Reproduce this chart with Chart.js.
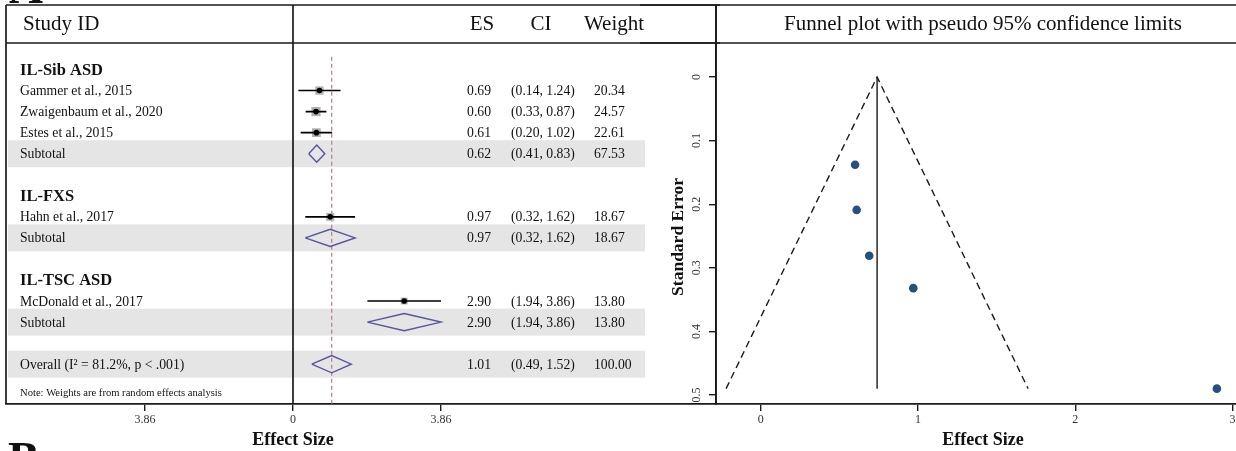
<!DOCTYPE html>
<html>
<head>
<meta charset="utf-8">
<script src="https://cdn.jsdelivr.net/npm/chart.js@4.4.1/dist/chart.umd.min.js"></script>
<style>
html,body{margin:0;padding:0;background:#fff;}
#wrap{position:relative;width:1236px;height:451px;overflow:hidden;background:#fff;}
#forest{position:absolute;left:0;top:0;}
#funnel{position:absolute;left:640px;top:0;}
</style>
</head>
<body>
<div id="wrap">
<canvas id="forest" width="720" height="451"></canvas>
<canvas id="funnel" width="596" height="451"></canvas>
</div>
<script>
// forest plot rows (rowPos = line number from the top)
const rowLabel = ["IL-Sib ASD","Gammer et al., 2015","Zwaigenbaum et al., 2020","Estes et al., 2015","Subtotal",
  "IL-FXS","Hahn et al., 2017","Subtotal","IL-TSC ASD","McDonald et al., 2017","Subtotal","Overall (I\u00b2 = 81.2%, p < .001)"];
const rowKind = ["group","study","study","study","sub","group","study","sub","group","study","sub","overall"];
const rowPos = [0,1,2,3,4,6,7,8,10,11,12,14];
const es     = [null,0.69,0.60,0.61,0.62,null,0.97,0.97,null,2.90,2.90,1.01];
const ciLow  = [null,0.14,0.33,0.20,0.41,null,0.32,0.32,null,1.94,1.94,0.49];
const ciHigh = [null,1.24,0.87,1.02,0.83,null,1.62,1.62,null,3.86,3.86,1.52];
const weight = [null,20.34,24.57,22.61,67.53,null,18.67,18.67,null,13.80,13.80,100.00];
const overallES = 1.01;
const forestTicks = [-3.86, 0, 3.86];

// funnel plot
const funnelES = [0.69,0.60,0.61,0.97,2.90];
const funnelSE = [0.281,0.138,0.209,0.332,0.490];
const pooledES = 0.74;
const limitX = [-0.22, 0.74, 1.70];
const limitY = [0.49, 0, 0.49];
const funnelXTicks = [0,1,2,3];
const funnelYTicks = [0,0.1,0.2,0.3,0.4,0.5];

Chart.defaults.font.family = "'Liberation Serif','Times New Roman',serif";
Chart.defaults.color = "#222";

const SERIF = "'Liberation Serif','Times New Roman',serif";
const INK = "#1a1a1a";

function line(ctx,x1,y1,x2,y2){ ctx.beginPath(); ctx.moveTo(x1,y1); ctx.lineTo(x2,y2); ctx.stroke(); }

// ---- forest data ----
let ciData=[], boxData=[], dotData=[], diamondData=[];
rowKind.forEach((k,i)=>{
  const r=rowPos[i];
  if(k==="study"){
    ciData.push({x:ciLow[i],y:r},{x:ciHigh[i],y:r},{x:null,y:null});
    boxData.push({x:es[i],y:r,w:weight[i]});
    dotData.push({x:es[i],y:r});
  } else if(k==="sub"||k==="overall"){
    const h=0.41;
    diamondData.push({x:ciLow[i],y:r},{x:es[i],y:r-h},{x:ciHigh[i],y:r},{x:es[i],y:r+h},{x:ciLow[i],y:r},{x:null,y:null});
  }
});

const yMinF=-1.259, yMaxF=15.891;

const forestDecor = {
  id:'forestDecor',
  beforeDatasetsDraw(chart){
    const {ctx, scales:{y}, chartArea:a} = chart;
    ctx.save();
    ctx.fillStyle='#e5e5e5';
    rowKind.forEach((k,i)=>{
      if(k==='sub'||k==='overall'){
        const yc=y.getPixelForValue(rowPos[i]);
        ctx.fillRect(a.left+2, yc-13.5, 645-a.left-2, 27);
      }
    });
    ctx.restore();
  },
  afterDraw(chart){
    const {ctx, scales:{x,y}, chartArea:a} = chart;
    ctx.save();
    ctx.strokeStyle=INK; ctx.lineWidth=1.7;
    line(ctx,a.left,5,720,5);
    line(ctx,a.left,43,720,43);
    line(ctx,a.left,5,a.left,a.bottom);
    const x0=x.getPixelForValue(0);
    line(ctx,x0,5,x0,a.bottom);
    line(ctx,a.right,5,a.right,a.bottom);

    ctx.fillStyle='#111';
    ctx.textBaseline='middle';
    ctx.font="21px "+SERIF;
    ctx.textAlign='left'; ctx.fillText("Study ID",23,24);
    ctx.textAlign='center';
    ctx.fillText("ES",482,24); ctx.fillText("CI",541,24); ctx.fillText("Weight",614,24);

    rowKind.forEach((k,i)=>{
      const py=y.getPixelForValue(rowPos[i])+1;
      ctx.textAlign='left';
      if(k==='group'){ ctx.font="bold 16.5px "+SERIF; ctx.fillText(rowLabel[i],20,py); return; }
      ctx.font="13.7px "+SERIF;
      ctx.fillText(rowLabel[i],20,py);
      ctx.textAlign='right'; ctx.fillText(es[i].toFixed(2),491,py);
      ctx.textAlign='left';
      ctx.fillText("("+ciLow[i].toFixed(2)+", "+ciHigh[i].toFixed(2)+")",511,py);
      ctx.fillText(weight[i].toFixed(2),594,py);
    });
    ctx.font="10.6px "+SERIF; ctx.textAlign='left';
    ctx.fillText("Note: Weights are from random effects analysis",20,393);

    ctx.font="bold 18px "+SERIF; ctx.textAlign='center';
    ctx.fillText("Effect Size",x0,440);

    // panel letters, cut by the page edges
    ctx.font="bold 47px "+SERIF; ctx.textAlign='left'; ctx.textBaseline='alphabetic';
    ctx.fillText("A",9,3);
    ctx.fillText("B",8,474);
    ctx.restore();
  }
};

new Chart(document.getElementById('forest'), {
  type:'scatter',
  data:{datasets:[
    {label:'ES', data:dotData, pointRadius:2.8, pointBackgroundColor:'#000', pointBorderWidth:0},
    {label:'CI', data:ciData, showLine:true, borderColor:'#000', borderWidth:1.6, pointRadius:0},
    {label:'Weight', data:boxData, pointStyle:'rect',
      pointRadius:c=>c.raw?1.3*Math.sqrt(c.raw.w):0, pointBackgroundColor:'#b0b0b0', pointBorderWidth:0},
    {label:'Subtotal', data:diamondData, showLine:true, borderColor:'#55559b', borderWidth:1.4, pointRadius:0, fill:false},
    {label:'Overall', data:[{x:overallES,y:-0.6},{x:overallES,y:yMaxF}], showLine:true,
      borderColor:'#b47f88', borderWidth:1.2, borderDash:[4,3], pointRadius:0}
  ]},
  options:{
    responsive:false, animation:false, devicePixelRatio:1,
    layout:{autoPadding:false, padding:{left:6,top:43,right:4,bottom:0}},
    plugins:{legend:{display:false}, tooltip:{enabled:false}},
    scales:{
      x:{type:'linear', min:-7.485, max:11.032,
        afterBuildTicks:s=>{ s.ticks=forestTicks.map(v=>({value:v})); },
        afterFit:s=>{ s.height=47; s.paddingLeft=0; s.paddingRight=0; },
        ticks:{callback:v=>v===0?"0":Math.abs(v).toFixed(2), font:{size:12}, color:'#333', padding:2, maxRotation:0},
        grid:{drawOnChartArea:false, drawTicks:true, tickLength:7, color:INK, lineWidth:1.4},
        border:{display:true, color:INK, width:1.7}
      },
      y:{type:'linear', display:false, reverse:true, min:yMinF, max:yMaxF}
    }
  },
  plugins:[forestDecor]
});

// ---- funnel ----
const funnelDecor = {
  id:'funnelDecor',
  afterDraw(chart){
    const {ctx, scales:{x,y}, chartArea:a} = chart;
    ctx.save();
    ctx.strokeStyle=INK; ctx.lineWidth=1.7;
    line(ctx,0,5,596,5);
    line(ctx,0,43,596,43);
    line(ctx,a.left,5,a.left,43);

    ctx.fillStyle='#111'; ctx.textBaseline='middle'; ctx.textAlign='center';
    ctx.font="21px "+SERIF;
    ctx.fillText("Funnel plot with pseudo 95% confidence limits",343,24);

    ctx.font="12px "+SERIF; ctx.fillStyle='#333';
    funnelYTicks.forEach(v=>{
      const py=y.getPixelForValue(v);
      ctx.save(); ctx.translate(a.left-19,py); ctx.rotate(-Math.PI/2);
      ctx.fillText(v===0?"0":v.toFixed(1),0,0); ctx.restore();
    });
    ctx.fillStyle='#111';
    ctx.font="bold 17.5px "+SERIF;
    ctx.save(); ctx.translate(38,237); ctx.rotate(-Math.PI/2);
    ctx.fillText("Standard Error",0,0); ctx.restore();

    ctx.font="bold 18px "+SERIF;
    ctx.fillText("Effect Size",343,440);
    ctx.restore();
  }
};

new Chart(document.getElementById('funnel'), {
  type:'scatter',
  data:{datasets:[
    {label:'Studies', data:funnelES.map((e,i)=>({x:e,y:funnelSE[i]})), pointRadius:4.3,
      pointBackgroundColor:'#26507f', pointBorderWidth:0},
    {label:'Pooled', data:[{x:pooledES,y:0},{x:pooledES,y:0.49}], showLine:true,
      borderColor:INK, borderWidth:1.4, pointRadius:0},
    {label:'Limits', data:limitX.map((v,i)=>({x:v,y:limitY[i]})), showLine:true,
      borderColor:INK, borderWidth:1.4, borderDash:[7,4.5], pointRadius:0}
  ]},
  options:{
    responsive:false, animation:false, devicePixelRatio:1,
    layout:{autoPadding:false, padding:{left:0,top:43,right:0,bottom:0}},
    plugins:{legend:{display:false}, tooltip:{enabled:false}},
    scales:{
      x:{type:'linear', min:-0.2842, max:3.0216,
        afterBuildTicks:s=>{ s.ticks=funnelXTicks.map(v=>({value:v})); },
        afterFit:s=>{ s.height=47; s.paddingLeft=0; s.paddingRight=0; },
        ticks:{callback:v=>String(v), font:{size:12}, color:'#333', padding:2, maxRotation:0},
        grid:{drawOnChartArea:false, drawTicks:true, tickLength:7, color:INK, lineWidth:1.4},
        border:{display:true, color:INK, width:1.7}
      },
      y:{type:'linear', reverse:true, min:-0.05346, max:0.51415,
        afterBuildTicks:s=>{ s.ticks=funnelYTicks.map(v=>({value:v})); },
        afterFit:s=>{ s.width=76; s.paddingTop=0; s.paddingBottom=0; },
        ticks:{display:false},
        grid:{drawOnChartArea:false, drawTicks:true, tickLength:7, color:INK, lineWidth:1.4},
        border:{display:true, color:INK, width:1.7}
      }
    }
  },
  plugins:[funnelDecor]
});
</script>
</body>
</html>
